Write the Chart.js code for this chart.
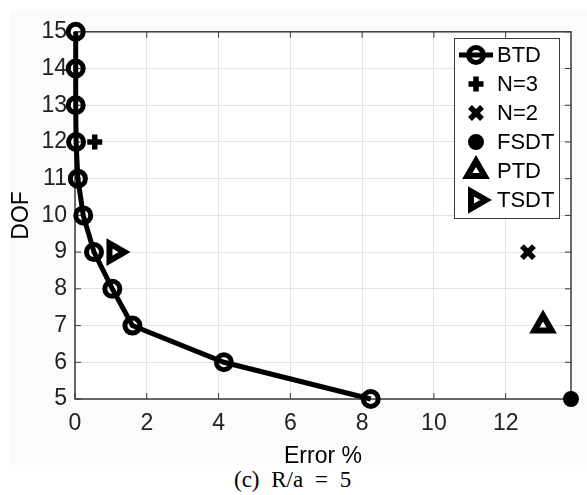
<!DOCTYPE html>
<html lang="en">
<head>
  <meta charset="UTF-8"/>
  <title>DOF vs Error</title>
  <script src="https://cdn.jsdelivr.net/npm/chart.js"></script>
  <style>
    body { margin: 0; background: #fff; width: 587px; height: 495px; position: relative; overflow: hidden; }
    #fig { position: absolute; left: 10px; top: 10px; width: 577px; height: 455px; }
    #caption { position: absolute; left: 234px; top: 468px; font: 23px "Liberation Serif", serif; line-height: 23px; word-spacing: 6px; color: #000; white-space: nowrap; }
  </style>
</head>
<body>
  <div id="fig"><canvas id="chart" width="577" height="455"></canvas></div>
  <div id="caption">(c) R/a = 5</div>

  <script>
    // values
    const btdDof = [15, 14, 13, 12, 11, 10, 9, 8, 7, 6, 5];
    const btdErr = [0.02, 0.02, 0.02, 0.03, 0.08, 0.23, 0.53, 1.04, 1.6, 4.15, 8.24];
    const n3 = { err: [0.55], dof: [12] };
    const n2 = { err: [12.62], dof: [9] };
    const fsdt = { err: [13.82], dof: [5] };
    const ptd = { err: [13.04], dof: [7] };
    const tsdt = { err: [1.1], dof: [9] };
    const xTicks = [0, 2, 4, 6, 8, 10, 12];
    const xMax = 13.82;

    const toPts = (xs, ys) => xs.map((x, i) => ({ x, y: ys[i] }));
    const ink = '#000';

    const datasets = [
      { label: 'BTD', data: toPts(btdErr, btdDof), showLine: true, borderColor: ink, borderWidth: 5,
        pointStyle: 'circle', pointRadius: 7.5, pointBorderWidth: 5, pointBackgroundColor: 'rgba(0,0,0,0)', pointBorderColor: ink },
      { label: 'N=3', data: toPts(n3.err, n3.dof), pointStyle: 'cross', pointRadius: 7.5, pointBorderWidth: 5.5, pointBorderColor: ink, pointBackgroundColor: ink },
      { label: 'N=2', data: toPts(n2.err, n2.dof), pointStyle: 'crossRot', pointRadius: 8.5, pointBorderWidth: 5.5, pointBorderColor: ink, pointBackgroundColor: ink },
      { label: 'FSDT', data: toPts(fsdt.err, fsdt.dof), pointStyle: 'circle', pointRadius: 7, pointBorderWidth: 2, pointBorderColor: ink, pointBackgroundColor: ink },
      { label: 'PTD', data: toPts(ptd.err, ptd.dof), pointStyle: 'triangle', pointRadius: 10, pointBorderWidth: 6, pointBorderColor: ink, pointBackgroundColor: '#fff' },
      { label: 'TSDT', data: toPts(tsdt.err, tsdt.dof), pointStyle: 'triangle', pointRotation: 90, pointRadius: 10, pointBorderWidth: 6, pointBorderColor: ink, pointBackgroundColor: '#fff' }
    ];
    datasets.forEach(d => { d.clip = false; });

    // figure background, white axes area, and MATLAB style box with inward ticks
    const boxPlugin = {
      id: 'box',
      beforeDraw(chart) {
        const { ctx, chartArea: a } = chart;
        ctx.save();
        ctx.fillStyle = '#fbfbfb';
        ctx.fillRect(0, 0, chart.width, chart.height);
        ctx.fillStyle = '#fff';
        ctx.fillRect(a.left, a.top, a.right - a.left, a.bottom - a.top);
        ctx.restore();
      },
      beforeDatasetsDraw(chart) {
        const { ctx, chartArea: a, scales } = chart;
        ctx.save();
        ctx.strokeStyle = '#3a3a3a';
        ctx.lineWidth = 1.5;
        ctx.strokeRect(a.left, a.top, a.right - a.left, a.bottom - a.top);
        ctx.lineWidth = 1;
        const len = 6;
        ctx.beginPath();
        scales.x.ticks.forEach(t => {
          const px = scales.x.getPixelForValue(t.value);
          ctx.moveTo(px, a.bottom); ctx.lineTo(px, a.bottom - len);
          ctx.moveTo(px, a.top); ctx.lineTo(px, a.top + len);
        });
        scales.y.ticks.forEach(t => {
          const py = scales.y.getPixelForValue(t.value);
          ctx.moveTo(a.left, py); ctx.lineTo(a.left + len, py);
          ctx.moveTo(a.right, py); ctx.lineTo(a.right - len, py);
        });
        ctx.stroke();
        ctx.restore();
      }
    };

    // legend box drawn inside the axes, top right
    const legendPlugin = {
      id: 'boxLegend',
      afterDraw(chart) {
        const { ctx } = chart;
        const x0 = 444, y0 = 28, w = 105, h = 180, row = 29, first = 17;
        ctx.save();
        ctx.fillStyle = '#fff';
        ctx.fillRect(x0, y0, w, h);
        ctx.strokeStyle = '#3a3a3a';
        ctx.lineWidth = 1;
        ctx.strokeRect(x0 + 0.5, y0 + 0.5, w, h);
        const draw = Chart.helpers && Chart.helpers.drawPoint;
        chart.data.datasets.forEach((d, i) => {
          const cy = y0 + first + i * row;
          const cx = x0 + 22;
          ctx.strokeStyle = ink;
          if (d.showLine) {
            ctx.lineWidth = d.borderWidth;
            ctx.beginPath(); ctx.moveTo(x0 + 5, cy); ctx.lineTo(x0 + 39, cy); ctx.stroke();
          }
          ctx.fillStyle = d.pointBackgroundColor;
          ctx.strokeStyle = d.pointBorderColor;
          ctx.lineWidth = d.pointBorderWidth;
          const opts = { pointStyle: d.pointStyle, rotation: d.pointRotation || 0, radius: d.pointRadius, borderWidth: d.pointBorderWidth };
          if (draw) draw(ctx, opts, cx, cy);
          else { ctx.beginPath(); ctx.arc(cx, cy, d.pointRadius, 0, Math.PI * 2); ctx.fill(); ctx.stroke(); }
          ctx.fillStyle = '#000';
          ctx.font = '22px "Liberation Sans", Arial, sans-serif';
          ctx.textBaseline = 'middle';
          ctx.textAlign = 'left';
          ctx.fillText(d.label, x0 + 43, cy + 1);
        });
        ctx.restore();
      }
    };

    const tickFont = { family: '"Liberation Sans", Arial, sans-serif', size: 23 };
    const titleFont = { family: '"Liberation Sans", Arial, sans-serif', size: 23, lineHeight: 1 };

    new Chart(document.getElementById('chart'), {
      type: 'scatter',
      data: { datasets },
      plugins: [boxPlugin, legendPlugin],
      options: {
        responsive: false,
        animation: false,
        devicePixelRatio: 1,
        layout: { padding: { left: 0, top: 11, right: 13, bottom: 0 } },
        plugins: { legend: { display: false }, tooltip: { enabled: false } },
        scales: {
          x: {
            type: 'linear', min: 0, max: xMax,
            afterBuildTicks: s => { s.ticks = xTicks.map(v => ({ value: v })); },
            afterFit: s => { s.height = 66; },
            ticks: { color: '#222', font: tickFont, padding: 11, autoSkip: false, maxRotation: 0 },
            grid: { color: '#e3e3e3', drawTicks: false },
            border: { display: false },
            title: { display: true, text: 'Error %', color: '#000', font: titleFont, padding: { top: 0, bottom: -3 } }
          },
          y: {
            type: 'linear', min: 5, max: 15,
            afterFit: s => { s.width = 65; },
            ticks: { stepSize: 1, color: '#222', font: tickFont, padding: 8, autoSkip: false },
            grid: { color: '#e3e3e3', drawTicks: false },
            border: { display: false },
            title: { display: true, text: 'DOF', color: '#000', font: titleFont, padding: { top: 0, bottom: 0 } }
          }
        }
      }
    });
  </script>
</body>
</html>
